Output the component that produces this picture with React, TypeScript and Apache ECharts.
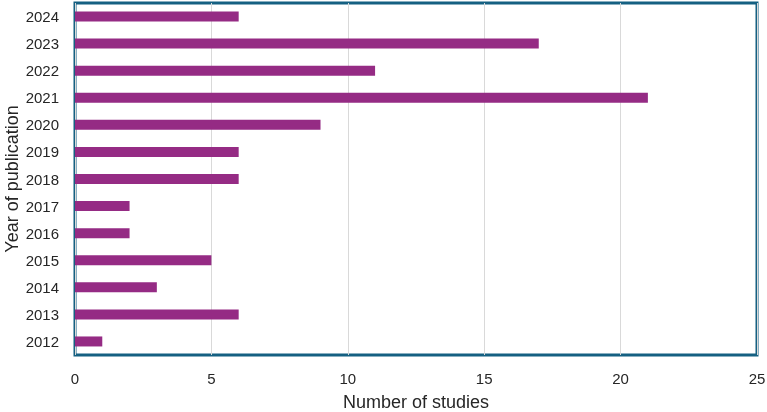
import React, { useEffect, useRef } from "react";
import * as echarts from "echarts";

const years = ["2012", "2013", "2014", "2015", "2016", "2017", "2018", "2019", "2020", "2021", "2022", "2023", "2024"];
const studies = [1, 6, 3, 5, 2, 2, 6, 6, 9, 21, 11, 17, 6];
const xTicks = [0, 5, 10, 15, 20, 25];

export default function App() {
  const ref = useRef<HTMLDivElement>(null);
  useEffect(() => {
    if (!ref.current) return;
    const chart = echarts.init(ref.current, null, { renderer: "svg" });
    chart.setOption({
      animation: false,
      textStyle: { fontFamily: "Liberation Sans, Arial, sans-serif" },
      grid: {
        left: 75,
        right: 10,
        top: 3,
        bottom: 57,
        outerBoundsMode: "none",
        containLabel: false,
        show: true,
        borderColor: "#156082",
        borderWidth: 3,
        backgroundColor: "#ffffff",
      },
      xAxis: {
        type: "value",
        min: xTicks[0],
        max: xTicks[xTicks.length - 1],
        interval: 5,
        name: "Number of studies",
        nameLocation: "middle",
        nameGap: 38,
        nameMoveOverlap: false,
        nameTextStyle: { fontSize: 18, color: "#262626" },
        axisLine: { show: false },
        axisTick: { show: false },
        axisLabel: { fontSize: 15, color: "#262626", margin: 16 },
        splitLine: { show: true, lineStyle: { color: "#d9d9d9", width: 1 } },
      },
      yAxis: {
        type: "category",
        data: years,
        name: "Year of publication",
        nameLocation: "middle",
        nameGap: 54,
        nameMoveOverlap: false,
        nameTextStyle: { fontSize: 18, color: "#262626" },
        axisLine: { show: false },
        axisTick: { show: false },
        axisLabel: { fontSize: 15, color: "#262626", margin: 16 },
        splitLine: { show: false },
      },
      series: [
        {
          type: "bar",
          data: studies,
          barWidth: 10,
          itemStyle: { color: "#952B84" },
        },
      ],
    });
    return () => chart.dispose();
  }, []);
  return <div ref={ref} style={{ width: 767, height: 412, position: "fixed", left: 0, top: 0 }} />;
}
